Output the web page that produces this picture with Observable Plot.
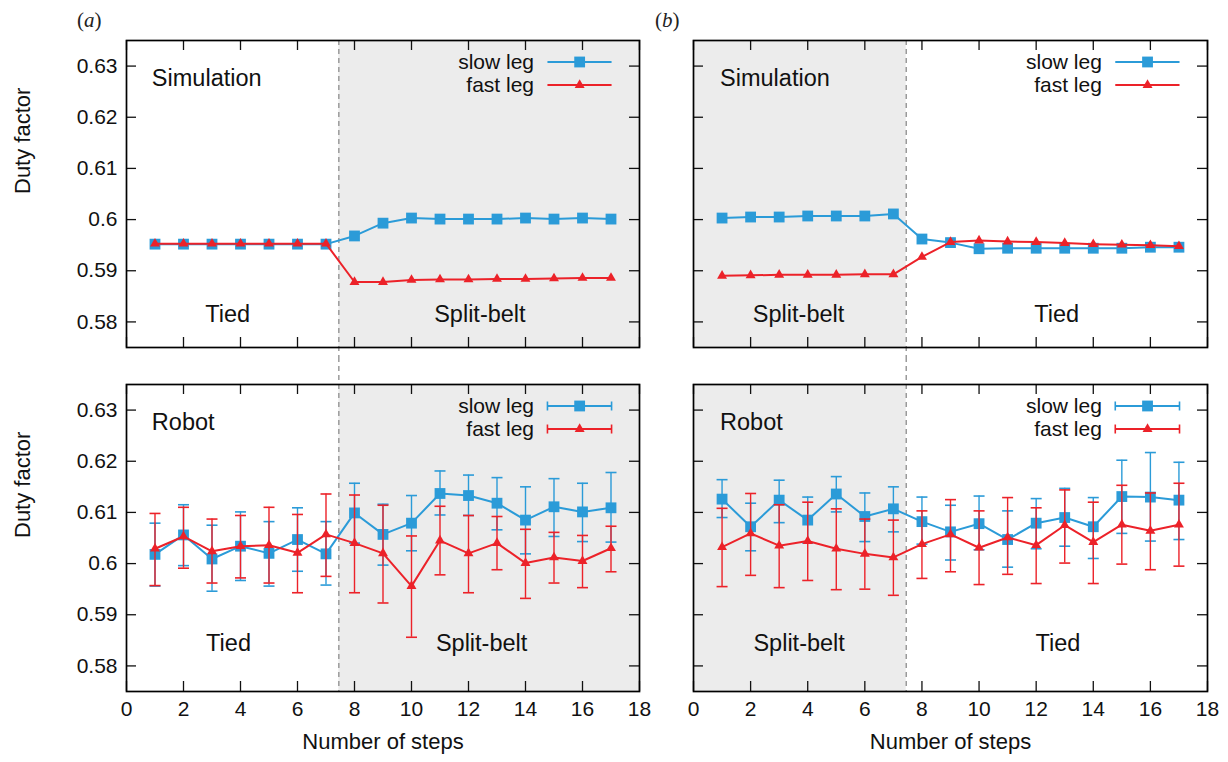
<!DOCTYPE html>
<html><head><meta charset="utf-8">
<script src="https://cdn.jsdelivr.net/npm/d3@7"></script>
<script src="https://cdn.jsdelivr.net/npm/@observablehq/plot@0.6"></script>
<style>
body{margin:0;background:#fff;}
#root{position:relative;width:1228px;height:762px;background:#fff;font-family:"Liberation Sans",Arial,sans-serif;overflow:hidden;}
.panel{position:absolute;}
.tag{position:absolute;font-family:"Liberation Serif","DejaVu Serif",serif;font-size:21px;line-height:24px;color:#222;}
</style></head><body><div id="root"></div>
<script>
// ---------- data ----------
const steps = [1,2,3,4,5,6,7,8,9,10,11,12,13,14,15,16,17];
const xTicks = [0,2,4,6,8,10,12,14,16,18];
const yTicks = [0.58,0.59,0.6,0.61,0.62,0.63];
const seriesNames = ["slow leg","fast leg"];
const splitStep = 7.45;

const simA_slow = [0.5952,0.5952,0.5952,0.5952,0.5952,0.5952,0.5952,0.5968,0.5993,0.6003,0.6001,0.6001,0.6001,0.6003,0.6001,0.6003,0.6001];
const simA_fast = [0.5953,0.5953,0.5953,0.5953,0.5953,0.5953,0.5953,0.5878,0.5878,0.5882,0.5883,0.5883,0.5884,0.5884,0.5885,0.5886,0.5886];

const simB_slow = [0.6003,0.6005,0.6005,0.6007,0.6007,0.6007,0.6011,0.5962,0.5955,0.5943,0.5944,0.5944,0.5944,0.5944,0.5944,0.5946,0.5946];
const simB_fast = [0.5890,0.5891,0.5892,0.5892,0.5892,0.5893,0.5893,0.5927,0.5956,0.5959,0.5957,0.5956,0.5954,0.5952,0.5951,0.5950,0.5948];

const robA_slow   = [0.6018,0.6056,0.6009,0.6034,0.6020,0.6047,0.6019,0.6099,0.6057,0.6079,0.6137,0.6133,0.6118,0.6085,0.6111,0.6101,0.6109];
const robA_slowLo = [0.5956,0.5996,0.5946,0.5967,0.5956,0.5985,0.5958,0.6040,0.5997,0.6025,0.6095,0.6094,0.6066,0.6019,0.6053,0.6043,0.6042];
const robA_slowHi = [0.6079,0.6115,0.6075,0.6101,0.6082,0.6109,0.6082,0.6157,0.6116,0.6133,0.6181,0.6173,0.6168,0.6150,0.6166,0.6157,0.6178];
const robA_fast   = [0.6029,0.6053,0.6024,0.6034,0.6036,0.6021,0.6057,0.6040,0.6020,0.5956,0.6045,0.6020,0.6040,0.6001,0.6012,0.6005,0.6030];
const robA_fastLo = [0.5957,0.5991,0.5962,0.5972,0.5962,0.5943,0.5975,0.5943,0.5923,0.5856,0.5978,0.5943,0.5988,0.5932,0.5962,0.5953,0.5984];
const robA_fastHi = [0.6098,0.6110,0.6087,0.6094,0.6110,0.6096,0.6136,0.6134,0.6114,0.6054,0.6112,0.6094,0.6092,0.6067,0.6061,0.6055,0.6073];

const robB_slow   = [0.6126,0.6072,0.6124,0.6085,0.6136,0.6092,0.6107,0.6082,0.6062,0.6078,0.6047,0.6079,0.6090,0.6072,0.6131,0.6130,0.6124];
const robB_slowLo = [0.6090,0.6025,0.6080,0.6040,0.6101,0.6043,0.6062,0.6038,0.6007,0.6027,0.5993,0.6029,0.6034,0.6010,0.6059,0.6044,0.6047];
const robB_slowHi = [0.6164,0.6118,0.6163,0.6130,0.6170,0.6138,0.6150,0.6130,0.6114,0.6132,0.6103,0.6127,0.6147,0.6129,0.6202,0.6217,0.6198];
const robB_fast   = [0.6032,0.6059,0.6035,0.6044,0.6029,0.6019,0.6012,0.6038,0.6057,0.6031,0.6051,0.6036,0.6075,0.6042,0.6076,0.6064,0.6076];
const robB_fastLo = [0.5955,0.5977,0.5953,0.5967,0.5949,0.5950,0.5938,0.5971,0.5984,0.5959,0.5979,0.5961,0.6001,0.5961,0.5999,0.5988,0.5995];
const robB_fastHi = [0.6108,0.6137,0.6115,0.6120,0.6107,0.6087,0.6085,0.6103,0.6125,0.6103,0.6129,0.6109,0.6144,0.6120,0.6153,0.6138,0.6157];

// ---------- style / layout ----------
const BLUE = "#2b9bd8", RED = "#ec2229", SHADE = "#ececec";
const FW_L = 513, FW_R = 514, FH = 307, TICK = 10;
const X_DOMAIN = [0, 18], Y_DOMAIN = [0.575, 0.635];
const hbar = {draw(ctx){ ctx.moveTo(-5.5,0); ctx.lineTo(5.5,0); }};
const vbar = {draw(ctx){ ctx.moveTo(0,-4.5); ctx.lineTo(0,4.5); }};

function rows(v, lo, hi){ return steps.map((s,i)=>({step:s, v:v[i], lo: lo ? lo[i] : null, hi: hi ? hi[i] : null})); }

function panel(opt){
  const {FW, left, top, mTop, mBottom, mLeft, mRight, shade, title, regions, slow, fast, errors, yLabels, xLabels, ruleInset} = opt;
  const W = mLeft + FW + mRight, H = mTop + FH + mBottom;
  const series = [
    {name: seriesNames[0], data: slow, color: BLUE, symbol: "square", r: 6.1},
    {name: seriesNames[1], data: fast, color: RED, symbol: "triangle", r: 3.7}
  ];
  const legY = [0.6308, 0.6263];
  const legX1 = 14.77, legX2 = 17.02, legXm = 15.9, legText = 14.3;
  const marks = [
    Plot.rect([shade], {x1: d=>d[0], x2: d=>d[1], fill: SHADE}),
    Plot.ruleX([splitStep], {stroke:"#9a9a9a", strokeWidth:1.5, strokeDasharray:"5,4", ...ruleInset}),
    Plot.tickX(xTicks, {x: d=>d, insetTop: FH - TICK, stroke:"#111", strokeWidth:1.3}),
    Plot.tickX(xTicks, {x: d=>d, insetBottom: FH - TICK, stroke:"#111", strokeWidth:1.3}),
    Plot.tickY(yTicks, {y: d=>d, insetRight: FW - TICK, stroke:"#111", strokeWidth:1.3}),
    Plot.tickY(yTicks, {y: d=>d, insetLeft: FW - TICK, stroke:"#111", strokeWidth:1.3}),
    Plot.frame({stroke:"#000", strokeWidth:1.7})
  ];
  series.forEach((s, k) => {
    marks.push(Plot.line(s.data, {x:"step", y:"v", stroke:s.color, strokeWidth:2}));
    if (errors) {
      marks.push(Plot.ruleX(s.data, {x:"step", y1:"lo", y2:"hi", stroke:s.color, strokeWidth:1.4}));
      marks.push(Plot.dot(s.data, {x:"step", y:"lo", symbol:hbar, stroke:s.color, fill:"none", strokeWidth:1.6}));
      marks.push(Plot.dot(s.data, {x:"step", y:"hi", symbol:hbar, stroke:s.color, fill:"none", strokeWidth:1.6}));
    }
    marks.push(Plot.dot(s.data, {x:"step", y:"v", symbol:s.symbol, r:s.r, fill:s.color, stroke:"none"}));
    const lg = [{x1: legX1, x2: legX2, xm: legXm, y: legY[k], label: s.name}];
    marks.push(Plot.text(lg, {x: ()=>legText, y:"y", text:"label", textAnchor:"end", fontSize:21, fill:"#111"}));
    marks.push(Plot.link(lg, {x1:"x1", x2:"x2", y1:"y", y2:"y", stroke:s.color, strokeWidth:2}));
    if (errors) {
      marks.push(Plot.dot(lg, {x:"x1", y:"y", symbol:vbar, stroke:s.color, fill:"none", strokeWidth:1.6}));
      marks.push(Plot.dot(lg, {x:"x2", y:"y", symbol:vbar, stroke:s.color, fill:"none", strokeWidth:1.6}));
    }
    marks.push(Plot.dot(lg, {x:"xm", y:"y", symbol:s.symbol, r:s.r, fill:s.color, stroke:"none"}));
  });
  marks.push(Plot.text([title.text], {x: ()=>title.x, y: ()=>0.6275, textAnchor:"start", fontSize:23.5, fill:"#111"}));
  regions.forEach(r => marks.push(Plot.text([r.text], {x: ()=>r.x, y: ()=>r.y, fontSize:23.5, fill:"#111"})));
  if (yLabels) {
    marks.push(Plot.text(yTicks, {y: d=>d, text: d=>String(d), frameAnchor:"left", dx:-9, textAnchor:"end", fontSize:21, fill:"#111"}));
    marks.push(Plot.text(["Duty factor"], {frameAnchor:"left", dx: -(mLeft - 22), rotate:-90, fontSize:22, fill:"#111"}));
  }
  if (xLabels) {
    marks.push(Plot.text(xTicks, {x: d=>d, text: d=>String(d), frameAnchor:"bottom", dy:24, fontSize:21, fill:"#111"}));
    marks.push(Plot.text(["Number of steps"], {frameAnchor:"bottom", dy:57, fontSize:22, fill:"#111"}));
  }
  const svg = Plot.plot({
    width: W, height: H, marginTop: mTop, marginBottom: mBottom, marginLeft: mLeft, marginRight: mRight,
    x: {domain: X_DOMAIN, axis: null},
    y: {domain: Y_DOMAIN, axis: null},
    style: {background:"transparent", overflow:"visible", fontFamily:"'Liberation Sans', Arial, sans-serif"},
    marks
  });
  const div = document.createElement("div");
  div.className = "panel";
  div.style.left = left + "px"; div.style.top = top + "px";
  div.appendChild(svg);
  document.getElementById("root").appendChild(div);
}

const TOP = {top:0, mTop:40, mBottom:10, ruleInset:{insetBottom:-10}};
const BOT = {top:357, mTop:27, mBottom:71, ruleInset:{insetTop:-27}};
const LEFT = {left:0, mLeft:126, mRight:6, FW:FW_L};
const RIGHT = {left:600, mLeft:93, mRight:21, FW:FW_R};

panel({...TOP, ...LEFT, shade:[splitStep, 18], title:{text:"Simulation", x:0.89},
  regions:[{text:"Tied", x:3.55, y:0.5814}, {text:"Split-belt", x:12.4, y:0.5814}],
  slow: rows(simA_slow), fast: rows(simA_fast), errors:false, yLabels:true, xLabels:false});
panel({...BOT, ...LEFT, shade:[splitStep, 18], title:{text:"Robot", x:0.89},
  regions:[{text:"Tied", x:3.58, y:0.5843}, {text:"Split-belt", x:12.46, y:0.5843}],
  slow: rows(robA_slow, robA_slowLo, robA_slowHi), fast: rows(robA_fast, robA_fastLo, robA_fastHi), errors:true, yLabels:true, xLabels:true});
panel({...TOP, ...RIGHT, shade:[0, splitStep], title:{text:"Simulation", x:0.93},
  regions:[{text:"Split-belt", x:3.68, y:0.5814}, {text:"Tied", x:12.72, y:0.5814}],
  slow: rows(simB_slow), fast: rows(simB_fast), errors:false, yLabels:false, xLabels:false});
panel({...BOT, ...RIGHT, shade:[0, splitStep], title:{text:"Robot", x:0.93},
  regions:[{text:"Split-belt", x:3.70, y:0.5843}, {text:"Tied", x:12.76, y:0.5843}],
  slow: rows(robB_slow, robB_slowLo, robB_slowHi), fast: rows(robB_fast, robB_fastLo, robB_fastHi), errors:true, yLabels:false, xLabels:true});

const root = document.getElementById("root");
[["a", 77], ["b", 655]].forEach(([t, x]) => {
  const d = document.createElement("div");
  d.className = "tag";
  d.style.left = x + "px"; d.style.top = "8px";
  d.innerHTML = "(<i>" + t + "</i>)";
  root.appendChild(d);
});
</script></body></html>
